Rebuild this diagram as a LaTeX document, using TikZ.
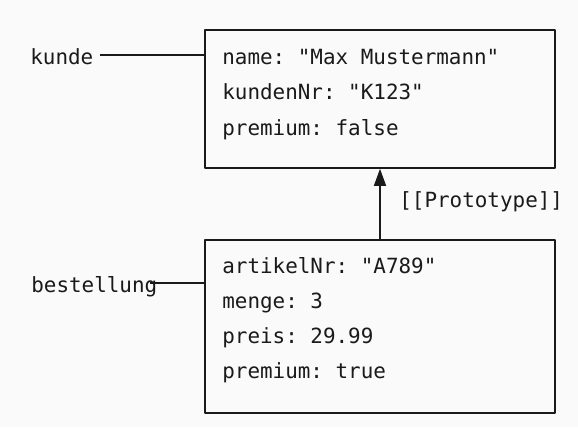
\documentclass[tikz,border=0pt]{standalone}
\usepackage{fontspec}
\setmonofont{DejaVu Sans Mono}
\usepackage{tikz}
\usetikzlibrary{arrows.meta}
\definecolor{bgcol}{HTML}{FAFAFA}
\definecolor{inkcol}{HTML}{1A1A1A}

\begin{document}
\begin{tikzpicture}[line join=round, >={Triangle[length=0.34cm,width=0.24cm]}, every node/.style={font=\fontsize{11.9}{11.9}\ttfamily, text=inkcol, inner sep=0pt},
	objbox/.style={draw=inkcol, line width=0.9pt, minimum width=7cm},
	fieldtxt/.style={anchor=base west}]
	\fill[bgcol] (0,0) rectangle (11.56,8.54);
	\useasboundingbox (0,0) rectangle (11.56,8.54);
	% objects
	\node[objbox, minimum height=2.76cm] (kundeobj) at (7.6,6.56) {};
	\node[fieldtxt] (kname) at (4.44,7.24) {name: "Max Mustermann"};
	\node[fieldtxt] (knr) at (4.44,6.54) {kundenNr: "K123"};
	\node[fieldtxt] (kprem) at (4.44,5.84) {premium: false};
	\node[objbox, minimum height=3.46cm] (bestobj) at (7.6,2.01) {};
	\node[fieldtxt] (bnr) at (4.44,3.08) {artikelNr: "A789"};
	\node[fieldtxt] (bmenge) at (4.44,2.38) {menge: 3};
	\node[fieldtxt] (bpreis) at (4.44,1.68) {preis: 29.99};
	\node[fieldtxt] (bprem) at (4.44,0.98) {premium: true};
	% variables
	\node[fieldtxt] (kunde) at (0.6,7.24) {kunde};
	\coordinate (kundeend) at (2.0,7.44);
	\draw[draw=inkcol, line width=0.8pt] (kundeend) -- (kundeend -| kundeobj.west);
	\node[fieldtxt] (bestellung) at (0.62,2.7) {bestellung};
	\coordinate (bestend) at (3.0,2.88);
	\draw[draw=inkcol, line width=0.8pt] (bestend) -- (bestend -| bestobj.west);
	% prototype link
	\draw[draw=inkcol, fill=inkcol, line width=0.8pt, ->] (bestobj.north) -- (kundeobj.south);
	\node[fieldtxt] (protolbl) at (7.98,4.4) {[[Prototype]]};
\end{tikzpicture}
\end{document}
